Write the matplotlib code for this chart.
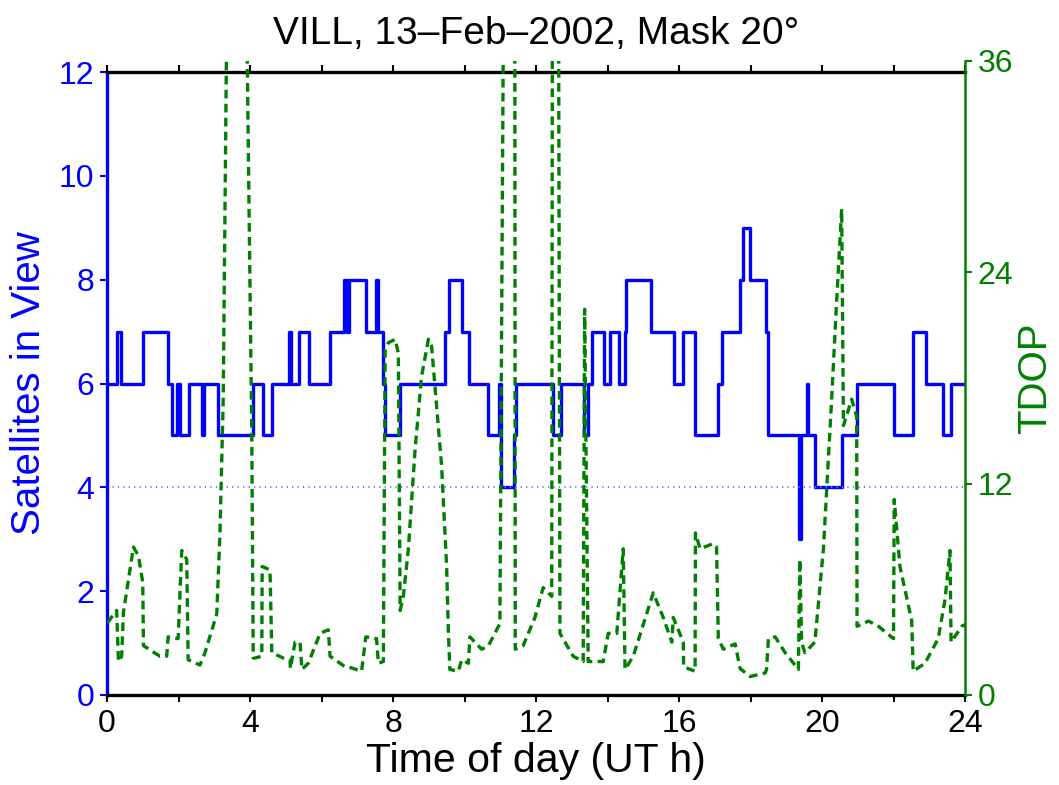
import matplotlib.pyplot as plt
import numpy as np

plt.rcParams['font.family'] = ['Liberation Sans', 'DejaVu Sans']

# satellites in view (step changes, UT hours)
sat_t = [0, 0.27, 0.38, 1.02, 1.72, 1.81, 1.95, 2.04, 2.30, 2.67, 2.71, 3.11,
         4.09, 4.37, 4.61, 5.10, 5.15, 5.38, 5.66, 6.24, 6.64, 6.71, 6.78, 7.24,
         7.52, 7.57, 7.73, 7.78, 8.20, 9.45, 9.57, 9.92, 10.13, 10.65, 10.96, 11.02,
         11.39, 11.44, 12.47, 12.69, 13.34, 13.46, 13.56, 13.90, 14.07, 14.33, 14.49, 14.53,
         15.21, 15.86, 16.12, 16.45, 17.10, 17.19, 17.71, 17.80, 17.99, 18.42, 18.48, 18.50,
         19.36, 19.40, 19.57, 19.62, 19.80, 20.57, 20.99, 22.02, 22.54, 22.91, 23.39, 23.61,
         24.0]
sat_n = [6, 7, 6, 7, 6, 5, 6, 5, 6, 5, 6, 5,
         6, 5, 6, 7, 6, 7, 6, 7, 8, 7, 8, 7,
         8, 7, 6, 5, 6, 7, 8, 7, 6, 5, 6, 4,
         5, 6, 5, 6, 5, 6, 7, 6, 7, 6, 7, 8,
         7, 6, 7, 5, 6, 7, 8, 9, 8, 7, 6, 5,
         3, 5, 6, 5, 4, 5, 6, 5, 7, 6, 5, 6,
         6]

# TDOP
tdop_t = [0.01, 0.27, 0.32, 0.41, 0.46, 0.74, 0.88, 1.00, 1.02, 1.48, 1.67, 1.71,
          1.99, 2.09, 2.23, 2.27, 2.60, 2.74, 3.07, 3.16, 3.25, 3.45, 3.78, 4.05,
          4.09, 4.14, 4.33, 4.34, 4.56, 4.61, 4.93, 5.12, 5.13, 5.26, 5.40, 5.45,
          5.63, 5.96, 6.19, 6.24, 6.66, 6.75, 7.12, 7.24, 7.54, 7.59, 7.73, 7.78,
          7.87, 8.06, 8.15, 8.20, 8.29, 8.43, 8.62, 8.80, 8.99, 9.08, 9.36, 9.50,
          9.55, 9.59, 9.83, 9.92, 10.11, 10.15, 10.48, 10.67, 10.95, 10.99, 11.15, 11.40,
          11.42, 11.64, 11.97, 12.20, 12.44, 12.47, 12.61, 12.67, 13.04, 13.32, 13.36, 13.46,
          13.88, 14.02, 14.26, 14.44, 14.49, 14.72, 15.28, 15.56, 15.80, 15.84, 16.12, 16.13,
          16.45, 16.46, 16.59, 16.96, 17.05, 17.10, 17.24, 17.57, 17.71, 17.99, 18.41, 18.45,
          18.50, 18.69, 18.97, 19.34, 19.38, 19.43, 19.52, 19.80, 20.04, 20.27, 20.41, 20.55,
          20.60, 20.83, 20.97, 20.98, 21.30, 21.58, 22.00, 22.02, 22.18, 22.51, 22.55, 22.88,
          23.25, 23.44, 23.58, 23.61, 23.91, 24.0]
tdop_v = [4.1, 4.8, 1.9, 2.2, 4.7, 8.4, 7.9, 6.4, 2.8, 2.2, 2.2, 3.3,
          3.2, 8.2, 7.7, 2.0, 1.7, 2.4, 4.6, 9.2, 16.7, 60, 60, 14.8,
          2.1, 2.1, 2.2, 7.3, 7.1, 2.4, 2.1, 2.0, 1.5, 3.0, 3.0, 1.45,
          1.8, 3.5, 3.7, 2.2, 1.6, 1.6, 1.35, 3.3, 3.2, 1.8, 1.9, 19.6,
          20.0, 20.2, 19.4, 4.8, 5.6, 8.3, 14.0, 18.1, 20.2, 19.8, 13.0, 7.3,
          3.5, 1.45, 1.35, 2.0, 1.8, 3.3, 2.6, 2.8, 3.9, 4.0, 60, 60,
          2.6, 2.8, 4.4, 6.1, 5.6, 60, 60, 3.5, 2.2, 1.9, 21.9, 1.9,
          1.9, 3.5, 3.5, 8.3, 1.45, 2.2, 5.8, 4.4, 3.0, 4.4, 3.0, 1.6,
          1.35, 9.2, 8.3, 8.6, 8.4, 3.2, 2.6, 2.9, 1.5, 1.05, 1.25, 1.45,
          3.2, 3.3, 2.4, 1.45, 7.7, 3.0, 2.4, 3.0, 8.3, 16.8, 22.4, 27.6,
          15.3, 16.8, 15.8, 3.9, 4.2, 3.9, 3.2, 11.1, 7.3, 4.2, 1.35, 1.8,
          3.2, 5.4, 8.2, 3.0, 3.9, 4.0]

mask_level = 4

blue = '#0000ff'
green = '#008000'

fig = plt.figure(figsize=(10.59, 7.85), dpi=100)
L, R = 107 / 1059, 965 / 1059
B, T = 90 / 785, 713 / 785
ax = fig.add_axes([L, B, R - L, T - B])
ax2 = fig.add_axes([L, B, R - L, 724 / 785 - B])

ax.step(sat_t, sat_n, where='post', color=blue, lw=2.4)
ax.axhline(mask_level, color='#7070ff', ls=(0, (0.6, 2.2)), lw=1.4)

ax.set_xlim(0, 24)
ax.set_ylim(0, 12)
ax.set_xticks(np.arange(0, 25, 4))
ax.set_xticks(np.arange(0, 25, 2), minor=True)
ax.set_yticks(np.arange(0, 13, 2))
ax.tick_params(axis='x', which='both', top=True, direction='out', length=5,
               width=1.5, labelsize=23, colors='black', pad=5)
ax.tick_params(axis='y', direction='out', length=5, width=1.5, labelsize=23,
               colors=blue, pad=4)
for s in ['top', 'bottom']:
    ax.spines[s].set_linewidth(2.4)
    ax.spines[s].set_color('black')
ax.spines['left'].set_color(blue)
ax.spines['left'].set_linewidth(2.4)
ax.spines['right'].set_visible(False)
ax.set_xlabel('Time of day (UT h)', fontsize=29.5, labelpad=2)
ax.set_ylabel('Satellites in View', fontsize=29, color=blue, labelpad=8)
ax.set_title('VILL, 13\u2013Feb\u20132002, Mask 20\u00b0', fontsize=28, pad=20)

ax2.plot(tdop_t, tdop_v, color=green, lw=2.4, ls=(0, (2.6, 1.6)))
ax2.set_xlim(0, 24)
ax2.set_ylim(0, 36)
ax2.patch.set_visible(False)
ax2.set_xticks([])
ax2.yaxis.tick_right()
ax2.yaxis.set_label_position('right')
ax2.set_yticks([0, 12, 24, 36])
ax2.tick_params(axis='y', direction='out', length=5, width=1.5, labelsize=23,
                colors=green, pad=4)
for s in ['top', 'bottom', 'left']:
    ax2.spines[s].set_visible(False)
ax2.spines['right'].set_color(green)
ax2.spines['right'].set_linewidth(1.8)
ax2.set_ylabel('TDOP', fontsize=29, color=green, labelpad=2)

fig.savefig('out.png', dpi=100)
